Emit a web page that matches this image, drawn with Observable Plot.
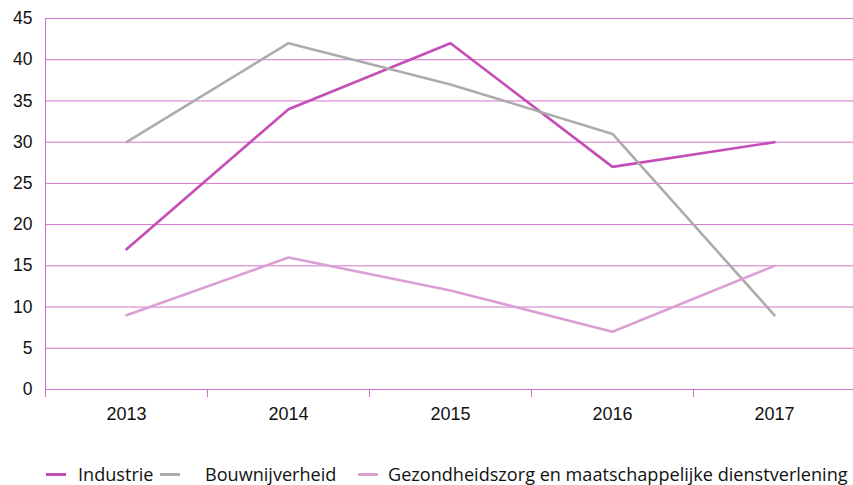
<!DOCTYPE html>
<html><head><meta charset="utf-8">
<script src="https://cdn.jsdelivr.net/npm/d3@7"></script>
<script src="https://cdn.jsdelivr.net/npm/@observablehq/plot@0.6"></script>
<style>
body{margin:0;background:#fff;font-family:"Open Sans",Lato,sans-serif;}
#legend{position:relative;height:45px;width:853px;font-size:18.1px;color:#111;}
.item{position:absolute;top:34px;transform:translateY(-50%);display:flex;align-items:center;white-space:nowrap;}
.sw{display:inline-block;width:20px;height:3px;margin-right:12px;}
</style></head><body>
<div id="chart"></div>
<div id="legend"></div>
<script>
const years = [2013, 2014, 2015, 2016, 2017];
const seriesNames = ["Industrie", "Bouwnijverheid", "Gezondheidszorg en maatschappelijke dienstverlening"];
const industrie = [17, 34, 42, 27, 30];
const bouw = [30, 42, 37, 31, 9];
const zorg = [9, 16, 12, 7, 15];
const colors = ["#c44db6", "#acacac", "#dc9fd4"];
const yTicks = [0, 5, 10, 15, 20, 25, 30, 35, 40, 45];
const gridColor = "#d273cb";

const data = [];
[industrie, bouw, zorg].forEach((vals, s) => vals.forEach((v, i) => data.push({year: years[i], value: v, series: seriesNames[s]})));
const bounds = years.map(y => y - 0.5).concat([years[years.length-1] + 0.5]);

const chart = Plot.plot({
  width: 853, height: 440,
  marginLeft: 45, marginRight: -2, marginTop: 18, marginBottom: 51,
  style: {fontFamily: "'Liberation Sans', Arial, sans-serif", fontSize: "17px", color: "#111", overflow: "visible"},
  x: {domain: [bounds[0], bounds[bounds.length-1]], label: null},
  y: {domain: [0, 45], label: null},
  color: {domain: seriesNames, range: colors},
  marks: [
    Plot.gridY(yTicks, {stroke: gridColor, strokeOpacity: 1, strokeWidth: 1}),
    Plot.ruleX([bounds[0]], {stroke: gridColor, strokeWidth: 1}),
    Plot.axisX(bounds.slice(0, -1), {tickSize: 8, tickFormat: () => "", stroke: gridColor, strokeOpacity: 1}),
    Plot.axisX(years, {tickSize: 0, tickPadding: 18, tickFormat: d => String(d), fontSize: 18}),
    Plot.axisY(yTicks, {tickSize: 0, tickPadding: 13, fontSize: 17.5}),
    Plot.line(data, {x: "year", y: "value", z: "series", stroke: "series", strokeWidth: 2.6, strokeLinejoin: "miter"})
  ]
});
document.getElementById("chart").appendChild(chart);

const pos = [{sw: 46, tx: 78}, {sw: 160, tx: 205}, {sw: 358, tx: 388}];
const leg = document.getElementById("legend");
seriesNames.forEach((n, i) => {
  const it = document.createElement("div");
  it.className = "item";
  it.style.left = pos[i].sw + "px";
  it.innerHTML = `<span class="sw" style="background:${colors[i]};width:20px;margin-right:${pos[i].tx - pos[i].sw - 20}px"></span><span>${n}</span>`;
  leg.appendChild(it);
});
</script>
</body></html>
